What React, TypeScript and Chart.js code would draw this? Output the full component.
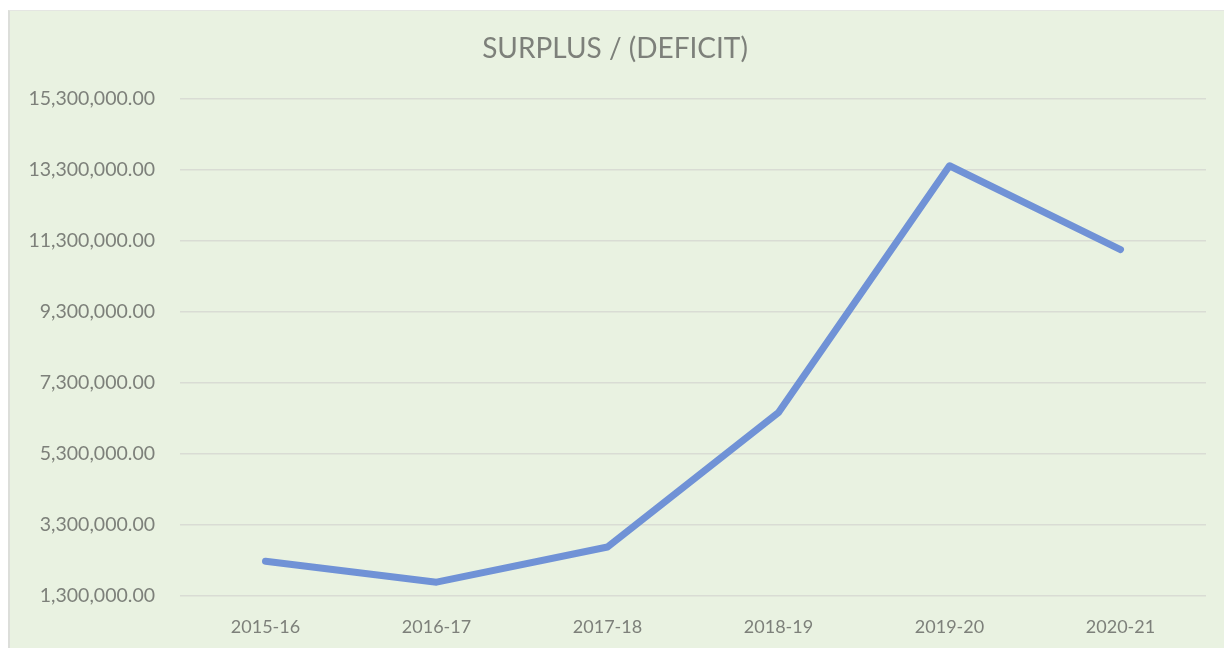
import React, { useEffect, useRef } from "react";
import { Chart, registerables } from "chart.js";

Chart.register(...registerables);

const categories = ["2015-16", "2016-17", "2017-18", "2018-19", "2019-20", "2020-21"];
const surplus = [2280000, 1690000, 2680000, 6470000, 13420000, 11060000];
const yMin = 1300000;
const yMax = 15300000;
const yStep = 2000000;
const titleText = "SURPLUS / (DEFICIT)";

export default function App() {
  const ref = useRef<HTMLCanvasElement | null>(null);
  useEffect(() => {
    if (!ref.current) return;
    const font = "Lato, 'Open Sans', sans-serif";
    const chart = new Chart(ref.current, {
      type: "line",
      data: {
        labels: categories,
        datasets: [
          {
            data: surplus,
            borderColor: "#7092D6",
            borderWidth: 7,
            pointRadius: 0,
            pointHoverRadius: 0,
            tension: 0,
            fill: false,
            borderCapStyle: "round",
            borderJoinStyle: "round",
          },
        ],
      },
      options: {
        animation: false,
        responsive: false,
        maintainAspectRatio: false,
        layout: { padding: { right: 21, left: 14, top: 0, bottom: 0 } },
        plugins: {
          legend: { display: false },
          tooltip: { enabled: false },
          title: {
            display: true,
            text: titleText,
            color: "#7D807A",
            font: { family: font, size: 28, weight: "normal" },
            padding: { top: 21, bottom: 33.4 },
          },
        },
        scales: {
          x: {
            type: "category",
            offset: true,
            grid: { display: false, drawTicks: false },
            border: { display: false },
            ticks: { color: "#7D807A", font: { family: font, size: 18 }, padding: 20 },
            afterFit: (s: any) => {
              s.height = 52;
            },
          },
          y: {
            min: yMin,
            max: yMax,
            grid: { color: "#D9DCD4", lineWidth: 1.6, drawTicks: false },
            border: { display: false },
            ticks: {
              stepSize: yStep,
              color: "#7D807A",
              font: { family: font, size: 19.5 },
              padding: 25,
              callback: (v: any) =>
                Number(v).toLocaleString("en-US", { minimumFractionDigits: 2, maximumFractionDigits: 2 }),
            },
            afterFit: (s: any) => {
              s.width = 156;
            },
          },
        },
      },
    });
    return () => chart.destroy();
  }, []);
  return (
    <div
      style={{
        marginTop: 2,
        width: 1219,
        height: 638,
        background: "#E9F2E1",
        borderLeft: "2px solid #DCDEDA",
        borderTop: "1px solid #E4E6E2",
        boxSizing: "border-box",
        position: "relative",
      }}
    >
      <canvas ref={ref} width={1217} height={637} style={{ display: "block" }} />
    </div>
  );
}
